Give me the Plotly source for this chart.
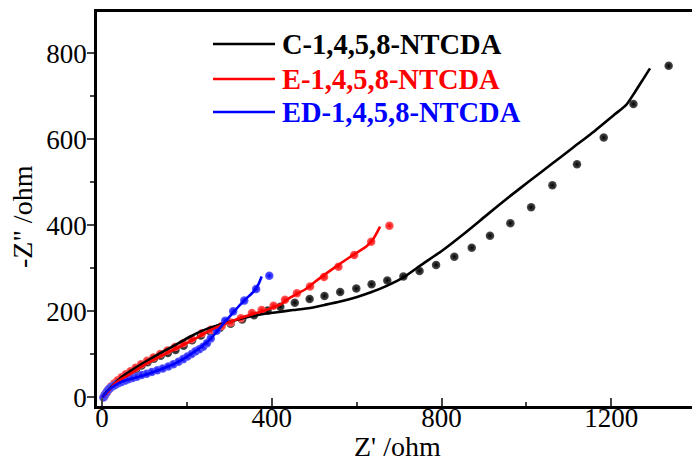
import plotly.graph_objects as go

# ---------------- data ----------------
series_names = ["C-1,4,5,8-NTCDA", "E-1,4,5,8-NTCDA", "ED-1,4,5,8-NTCDA"]
series_colors = ["#000000", "#ff0000", "#0000ff"]
dot_centers = ["#505050", "#ff6060", "#6060ff"]

c_dot_x = [5, 8, 12, 17, 23, 30, 38, 47, 57, 68, 80, 93, 107, 122, 138, 155, 173, 192, 212, 233,
           255, 278, 303, 330, 358, 390, 420, 454, 489, 524, 561, 599, 635, 672, 710, 748, 787,
           830, 871, 914, 962, 1011, 1061, 1119, 1182, 1252, 1335]
c_dot_y = [2, 8, 14, 20, 26, 32, 38, 45, 52, 59, 66, 74, 82, 90, 97, 103, 110, 120, 133, 144,
           153, 162, 171, 181, 191, 202, 211, 220, 229, 236, 245, 253, 263, 272, 281, 294, 308,
           327, 348, 376, 405, 442, 493, 542, 604, 682, 771]
c_fit_x = [0, 10, 25, 50, 91, 132, 173, 207, 231, 260, 286, 320, 349, 380, 412, 450, 490, 524,
           561, 599, 635, 672, 710, 749, 801, 852, 904, 955, 1007, 1060, 1110, 1160, 1208, 1235,
           1255, 1275, 1291]
c_fit_y = [0, 12, 28, 50, 76, 100, 122, 141, 153, 164, 172, 181, 188, 194, 198, 203, 208, 215,
           223, 233, 245, 260, 279, 306, 341, 380, 422, 463, 503, 543, 581, 619, 658, 680, 709,
           740, 765]

e_dot_x = [4, 7, 11, 16, 22, 29, 37, 46, 56, 67, 79, 92, 106, 121, 137, 154, 172, 191, 211, 235,
           256, 282, 303, 327, 353, 376, 404, 431, 459, 490, 523, 557, 594, 634, 677]
e_dot_y = [1, 6, 12, 19, 26, 33, 40, 47, 54, 61, 69, 77, 85, 93, 101, 109, 117, 126, 136, 149,
           157, 166, 174, 184, 196, 203, 213, 227, 242, 258, 280, 304, 331, 362, 399]
e_fit_x = [0, 11, 31, 62, 101, 141, 180, 219, 259, 300, 340, 380, 420, 443, 480, 506, 545, 585,
           624, 640, 655]
e_fit_y = [0, 10, 33, 52, 76, 97, 116, 136, 158, 175, 189, 201, 216, 232, 252, 272, 300, 327,
           352, 370, 397]

ed_dot_x = [3, 6, 10, 14, 19, 25, 31, 38, 46, 54, 62, 72, 82, 93, 105, 117, 130, 143, 156, 168,
            180, 191, 201, 211, 220, 229, 238, 247, 256, 270, 290, 309, 335, 363, 394]
ed_dot_y = [0, 5, 11, 17, 22, 26, 29, 33, 36, 39, 42, 45, 48, 52, 55, 59, 63, 67, 72, 77,
            83, 89, 95, 101, 107, 112, 118, 126, 137, 155, 178, 200, 225, 252, 283]
ed_fit_x = [0, 5, 15, 30, 50, 80, 110, 140, 170, 200, 230, 250, 270, 286, 305, 325, 340, 357,
            368, 376]
ed_fit_y = [0, 5, 17, 28, 38, 46, 55, 66, 78, 95, 115, 131, 152, 172, 193, 215, 230, 246,
            262, 281]

x_ticks = [0, 400, 800, 1200]
y_ticks = [0, 200, 400, 600, 800]
x_title = "Z' /ohm"
y_title = '-Z" /ohm'

# ---------------- figure ----------------
W, H = 692, 457
L, T, B, R = 97, 12, 51, 0
pw, ph = W - L - R, H - T - B

def px_x(p):
    return (p - L) / pw

def px_y(p):
    return (H - B - p) / ph

fig = go.Figure()
dots = [(c_dot_x, c_dot_y), (e_dot_x, e_dot_y), (ed_dot_x, ed_dot_y)]
fits = [(c_fit_x, c_fit_y), (e_fit_x, e_fit_y), (ed_fit_x, ed_fit_y)]
for i in range(3):
    fig.add_trace(go.Scatter(
        x=dots[i][0], y=dots[i][1], mode="markers", showlegend=False,
        marker=dict(size=8.5, color=dot_centers[i],
                    gradient=dict(type="radial", color=series_colors[i]),
                    line=dict(width=0))))
for i in range(3):
    fig.add_trace(go.Scatter(
        x=fits[i][0], y=fits[i][1], mode="lines", showlegend=False,
        line=dict(color=series_colors[i], width=2.6, shape="spline", smoothing=0.6)))

font_family = "Times New Roman"
tick_font = dict(family=font_family, size=27, color="black")

# manual legend (long line samples + coloured bold text)
rows = [44, 79, 112]
for i in range(3):
    fig.add_shape(type="line", xref="paper", yref="paper",
                  x0=px_x(213), x1=px_x(275), y0=px_y(rows[i]), y1=px_y(rows[i]),
                  line=dict(color=series_colors[i], width=2.6))
    fig.add_annotation(xref="paper", yref="paper", x=px_x(280), y=px_y(rows[i]),
                       xanchor="left", yanchor="middle", showarrow=False,
                       text="<b>%s</b>" % series_names[i],
                       font=dict(family=font_family, size=28.5, color=series_colors[i]))

fig.add_annotation(xref="paper", yref="paper", x=px_x(397), y=px_y(446),
                   xanchor="center", yanchor="middle", showarrow=False, text=x_title,
                   font=dict(family=font_family, size=28, color="black"))
fig.add_annotation(xref="paper", yref="paper", x=px_x(22), y=px_y(217),
                   xanchor="center", yanchor="middle", showarrow=False, text=y_title,
                   textangle=-90, font=dict(family=font_family, size=28, color="black"))

fig.update_layout(
    width=W, height=H,
    margin=dict(l=L, r=R, t=T, b=B, autoexpand=False),
    paper_bgcolor="white", plot_bgcolor="white",
    font=dict(family=font_family, size=27, color="black"),
    showlegend=False,
)
fig.update_xaxes(range=[-12, 1390], tickvals=x_ticks, ticks="inside", ticklen=8, tickwidth=2,
                 minor=dict(dtick=200, tick0=0, ticks="inside", ticklen=4, tickwidth=2),
                 showline=True, linewidth=2.5, linecolor="black", mirror=True,
                 ticklabelstandoff=-14,
                 showgrid=False, zeroline=False, tickfont=tick_font)
fig.update_yaxes(range=[-20, 896], tickvals=y_ticks, ticks="outside", ticklen=7, tickwidth=2,
                 minor=dict(dtick=100, tick0=0, ticks="outside", ticklen=4, tickwidth=2),
                 showline=True, linewidth=2.5, linecolor="black", mirror=False,
                 ticklabelstandoff=-5,
                 showgrid=False, zeroline=False, tickfont=tick_font)

fig.write_html("out.html")
